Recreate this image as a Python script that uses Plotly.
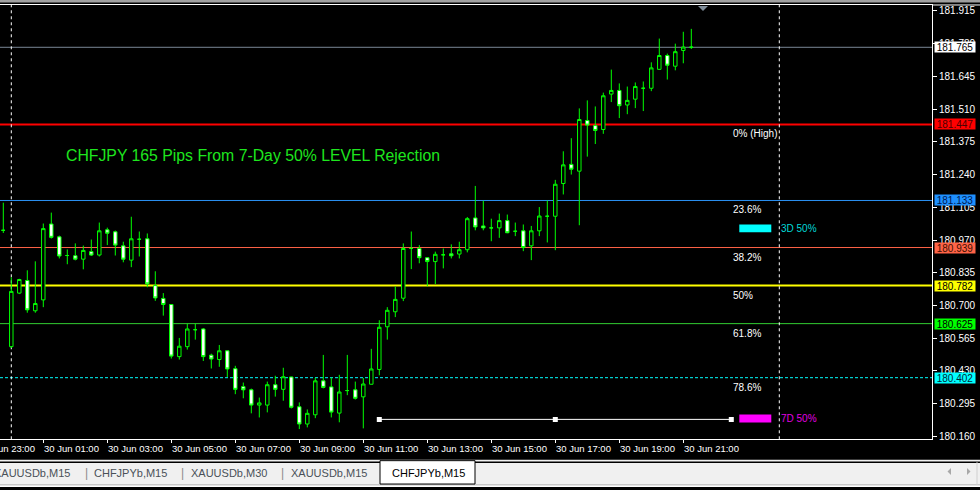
import plotly.graph_objects as go
import pandas as pd

# ---------------- data ----------------
times = pd.date_range("2025-06-29 23:45", periods=87, freq="15min")

open_ = [181.010, 180.530, 180.751, 180.803, 180.678, 180.723, 181.036, 180.983, 180.906, 180.905,
         180.891, 180.922, 180.908, 181.012, 181.004, 180.946, 180.887, 180.973, 180.975, 180.782,
         180.729, 180.704, 180.489, 180.530, 180.600, 180.603, 180.495, 180.477, 180.513, 180.439,
         180.365, 180.352, 180.289, 180.289, 180.373, 180.354, 180.405, 180.282, 180.211, 180.249,
         180.389, 180.364, 180.256, 180.349, 180.352, 180.323, 180.375, 180.436, 180.612, 180.674,
         180.730, 180.935, 180.935, 180.897, 180.881, 180.909, 180.913, 180.912, 180.930, 181.061,
         181.028, 181.020, 181.020, 181.050, 181.006, 181.008, 180.946, 181.008, 181.068, 181.068,
         181.203, 181.282, 181.254, 181.463, 181.442, 181.426, 181.572, 181.587, 181.527, 181.551,
         181.596, 181.596, 181.674, 181.731, 181.687, 181.752, 181.766]
high = [181.124, 180.816, 180.810, 180.845, 180.882, 181.038, 181.083, 180.988, 180.931, 180.956,
        180.947, 180.972, 181.042, 181.021, 181.009, 180.963, 181.066, 181.005, 180.997, 180.841,
        180.751, 180.705, 180.566, 180.625, 180.625, 180.607, 180.501, 180.537, 180.514, 180.451,
        180.382, 180.357, 180.320, 180.386, 180.410, 180.443, 180.406, 180.300, 180.271, 180.402,
        180.496, 180.402, 180.414, 180.496, 180.386, 180.401, 180.521, 180.639, 180.693, 180.778,
        180.956, 181.005, 180.949, 180.899, 180.922, 180.935, 180.952, 180.963, 181.065, 181.193,
        181.132, 181.058, 181.079, 181.075, 181.042, 181.034, 181.028, 181.106, 181.133, 181.218,
        181.336, 181.390, 181.513, 181.546, 181.521, 181.578, 181.673, 181.616, 181.603, 181.620,
        181.624, 181.703, 181.801, 181.739, 181.780, 181.829, 181.841]
low = [180.999, 180.525, 180.747, 180.670, 180.670, 180.693, 180.976, 180.894, 180.870, 180.886,
       180.849, 180.904, 180.902, 180.949, 180.906, 180.878, 180.858, 180.902, 180.775, 180.719,
       180.658, 180.481, 180.477, 180.518, 180.559, 180.471, 180.440, 180.447, 180.405, 180.334,
       180.317, 180.255, 180.238, 180.259, 180.324, 180.307, 180.275, 180.190, 180.197, 180.235,
       180.358, 180.238, 180.218, 180.330, 180.312, 180.193, 180.374, 180.412, 180.559, 180.652,
       180.718, 180.850, 180.874, 180.779, 180.788, 180.853, 180.894, 180.894, 180.919, 181.010,
       181.010, 180.965, 180.979, 180.998, 180.986, 180.924, 180.887, 180.986, 180.960, 180.928,
       181.158, 181.240, 181.031, 181.314, 181.366, 181.408, 181.539, 181.473, 181.489, 181.514,
       181.502, 181.584, 181.672, 181.632, 181.670, 181.699, 181.758]
close = [181.010, 180.758, 180.807, 180.682, 180.708, 181.017, 180.981, 180.904, 180.906, 180.891,
         180.927, 180.908, 181.008, 180.998, 180.949, 180.891, 180.975, 180.973, 180.789, 180.731,
         180.704, 180.491, 180.532, 180.603, 180.600, 180.489, 180.479, 180.513, 180.438, 180.354,
         180.352, 180.289, 180.298, 180.373, 180.354, 180.406, 180.280, 180.211, 180.255, 180.389,
         180.362, 180.260, 180.343, 180.349, 180.317, 180.376, 180.438, 180.610, 180.680, 180.725,
         180.935, 180.935, 180.897, 180.881, 180.911, 180.909, 180.905, 180.930, 181.058, 181.024,
         181.020, 181.020, 181.050, 181.000, 181.006, 180.939, 181.008, 181.069, 181.068, 181.200,
         181.280, 181.262, 181.467, 181.444, 181.422, 181.565, 181.587, 181.524, 181.546, 181.603,
         181.596, 181.680, 181.731, 181.691, 181.747, 181.766, 181.765]

time_ticks = ["2025-06-29 23:00", "2025-06-30 01:00", "2025-06-30 03:00", "2025-06-30 05:00",
              "2025-06-30 07:00", "2025-06-30 09:00", "2025-06-30 11:00", "2025-06-30 13:00",
              "2025-06-30 15:00", "2025-06-30 17:00", "2025-06-30 19:00", "2025-06-30 21:00"]
time_labels = ["29 Jun 23:00", "30 Jun 01:00", "30 Jun 03:00", "30 Jun 05:00", "30 Jun 07:00",
               "30 Jun 09:00", "30 Jun 11:00", "30 Jun 13:00", "30 Jun 15:00", "30 Jun 17:00",
               "30 Jun 19:00", "30 Jun 21:00"]
price_ticks = [181.915, 181.780, 181.645, 181.510, 181.375, 181.240, 181.105, 180.970,
               180.835, 180.700, 180.565, 180.430, 180.295, 180.160]

fib_levels = [181.447, 181.133, 180.939, 180.782, 180.625, 180.402]
fib_labels = ["0% (High)", "23.6%", "38.2%", "50%", "61.8%", "78.6%"]
fib_colors = ["#ff0000", "#2a8ff0", "#ff6347", "#ffff00", "#32cd32", "#00ffff"]
fib_widths = [2, 1, 1, 2, 1, 1]
fib_dash = ["solid", "solid", "solid", "solid", "solid", "3px,2px"]
fib_label_time = "2025-06-30 22:30"

bid_price = 181.765

box_prices = [181.765, 181.447, 181.133, 180.939, 180.782, 180.625, 180.402]
box_bg = ["#ffffff", "#ff0000", "#1e90ff", "#ff6347", "#ffff00", "#00ff00", "#00ffff"]
box_fg = ["#000000", "#4a0000", "#001850", "#401000", "#000000", "#000000", "#002838"]

day_separators = ["2025-06-30 00:00", "2025-07-01 00:00"]

trend_times = ["2025-06-30 11:30", "2025-06-30 17:00", "2025-06-30 22:30"]
trend_prices = [180.230, 180.230, 180.230]

marker_names = ["3D 50%", "7D 50%"]
marker_levels = [181.018, 180.234]
marker_colors = ["#00ffff", "#ff00ff"]
marker_text_colors = ["#00d8d8", "#e000e0"]
marker_start = "2025-06-30 22:45"
marker_end = "2025-06-30 23:45"
marker_text_time = "2025-07-01 00:00"

title_text = "CHFJPY 165 Pips From 7-Day 50% LEVEL Rejection"

tabs = ["XAUUSDb,M15", "CHFJPYb,M15", "XAUUSDb,M30", "XAUUSDb,M15"]
active_tab = "CHFJPYb,M15"

x_range = ["2025-06-29 23:38:49", "2025-07-01 04:46:19"]
y_range = [180.1479, 181.9396]

# ---------------- helpers (pixel -> paper) ----------------
W, H = 980, 490
def PX(x):
    return x / W
def PY(y):
    return 1 - y / H

FONT = "Liberation Sans, Arial, sans-serif"
PX_PER_MIN = 8 / 15.0  # bar spacing of the chart (8 px per 15-minute bar)

fig = go.Figure()

fig.add_trace(go.Candlestick(
    x=times, open=open_, high=high, low=low, close=close,
    increasing=dict(line=dict(color="#00ff00", width=1), fillcolor="#000000"),
    decreasing=dict(line=dict(color="#00ff00", width=1), fillcolor="#ffffff"),
    whiskerwidth=0, hoverinfo="skip", showlegend=False,
))

# trend line with selection squares
fig.add_trace(go.Scatter(
    x=trend_times, y=trend_prices, mode="lines+markers",
    line=dict(color="#ffffff", width=1),
    marker=dict(symbol="square", size=5, color="#ffffff"),
    hoverinfo="skip", showlegend=False,
))

shapes = []
# bid line
shapes.append(dict(type="line", xref="paper", yref="y", x0=0, x1=PX(932), y0=bid_price, y1=bid_price,
                   line=dict(color="#7a8796", width=1), layer="below"))
# fib lines
for lv, col, wd, ds in zip(fib_levels, fib_colors, fib_widths, fib_dash):
    shapes.append(dict(type="line", xref="paper", yref="y", x0=0, x1=PX(932), y0=lv, y1=lv,
                       line=dict(color=col, width=wd, dash=ds), layer="below"))
# day separators
for d in day_separators:
    shapes.append(dict(type="line", xref="x", yref="paper", x0=d, x1=d, y0=PY(442), y1=PY(5),
                       line=dict(color="#ffffff", width=1, dash="3px,3px"), layer="below"))
# marker rectangles
half = 4 / 243.9
for lv, col in zip(marker_levels, marker_colors):
    shapes.append(dict(type="rect", xref="x", yref="y", x0=marker_start, x1=marker_end,
                       y0=lv - half, y1=lv + half, fillcolor=col, line=dict(width=0)))
# top strip
shapes.append(dict(type="rect", xref="paper", yref="paper", x0=0, x1=1, y0=PY(2.5), y1=1,
                   fillcolor="#a0a0a0", line=dict(width=0)))
shapes.append(dict(type="line", xref="paper", yref="paper", x0=PX(932), x1=1, y0=PY(5), y1=PY(5),
                   line=dict(color="#ffffff", width=1)))
# chart shift triangle
shapes.append(dict(type="path", xref="paper", yref="paper",
                   path=f"M {PX(698)} {PY(6)} L {PX(708)} {PY(6)} L {PX(703)} {PY(11)} Z",
                   fillcolor="#7f8c99", line=dict(width=0)))
# tab bar
shapes.append(dict(type="rect", xref="paper", yref="paper", x0=0, x1=1, y0=0, y1=PY(462.5),
                   fillcolor="#f0f0f0", line=dict(width=0)))
shapes.append(dict(type="line", xref="paper", yref="paper", x0=0, x1=1, y0=PY(465), y1=PY(465),
                   line=dict(color="#000000", width=1.5)))
shapes.append(dict(type="line", xref="paper", yref="paper", x0=0, x1=1, y0=PY(488), y1=PY(488),
                   line=dict(color="#a0a0a0", width=1)))
shapes.append(dict(type="rect", xref="paper", yref="paper", x0=0, x1=1, y0=0, y1=PY(488.5),
                   fillcolor="#ffffff", line=dict(width=0)))
shapes.append(dict(type="rect", xref="paper", yref="paper", x0=PX(380), x1=PX(475), y0=PY(487), y1=PY(463.5),
                   fillcolor="#ffffff", line=dict(color="#000000", width=1)))
shapes.append(dict(type="line", xref="paper", yref="paper", x0=PX(977), x1=PX(977), y0=PY(488), y1=PY(465),
                   line=dict(color="#d0d0d0", width=1)))
# scroll arrows
shapes.append(dict(type="path", xref="paper", yref="paper",
                   path=f"M {PX(951)} {PY(471)} L {PX(951)} {PY(478)} L {PX(947.5)} {PY(474.5)} Z",
                   fillcolor="#a8a8a8", line=dict(width=0)))
shapes.append(dict(type="path", xref="paper", yref="paper",
                   path=f"M {PX(967)} {PY(471)} L {PX(967)} {PY(478)} L {PX(970.5)} {PY(474.5)} Z",
                   fillcolor="#a8a8a8", line=dict(width=0)))

ann = []
# time labels (left-aligned at their tick, MT4 style)
x_start = pd.Timestamp(x_range[0])
for t, lab in zip(time_ticks, time_labels):
    tt = pd.Timestamp(t)
    if tt < x_start:
        # tick lies left of the visible area: anchor at the left edge and shift back
        off = (x_start - tt).total_seconds() / 60.0 * PX_PER_MIN
        ann.append(dict(x=x_range[0], y=PY(451), xref="x", yref="paper", text=lab, showarrow=False,
                        xanchor="left", yanchor="middle", xshift=-1 - off,
                        font=dict(family=FONT, size=9.5, color="#ffffff")))
    else:
        ann.append(dict(x=t, y=PY(451), xref="x", yref="paper", text=lab, showarrow=False,
                        xanchor="left", yanchor="middle", xshift=-1,
                        font=dict(family=FONT, size=9.5, color="#ffffff")))
# price boxes
for p, bg, fg in zip(box_prices, box_bg, box_fg):
    ann.append(dict(x=PX(934), y=p, xref="paper", yref="y", text=f"{p:.3f}", showarrow=False,
                    xanchor="left", yanchor="middle", bgcolor=bg, width=40, height=10, borderpad=0,
                    font=dict(family=FONT, size=10, color=fg)))
# fib labels
for lv, lab in zip(fib_levels, fib_labels):
    ann.append(dict(x=fib_label_time, y=lv, xref="x", yref="y", text=lab, showarrow=False,
                    xanchor="left", yanchor="top", yshift=-2,
                    font=dict(family=FONT, size=10, color="#ffffff")))
# marker labels
for nm, lv, col in zip(marker_names, marker_levels, marker_text_colors):
    ann.append(dict(x=marker_text_time, y=lv, xref="x", yref="y", text=nm, showarrow=False,
                    xanchor="left", yanchor="middle",
                    font=dict(family=FONT, size=10, color=col)))
# title text object
ann.append(dict(x=PX(64), y=PY(156), xref="paper", yref="paper", text=title_text, showarrow=False,
                xanchor="left", yanchor="middle",
                font=dict(family=FONT, size=15.8, color="#1ee61e")))
# tabs
tab_right_edges = [71.7, 168.7, 268.7, 369]
for lab, xr in zip(tabs, tab_right_edges):
    ann.append(dict(x=PX(xr), y=PY(475.5), xref="paper", yref="paper", text=lab, showarrow=False,
                    xanchor="right", yanchor="middle",
                    font=dict(family=FONT, size=11, color="#4a5058")))
for sx in [86, 182, 282]:
    ann.append(dict(x=PX(sx), y=PY(475.5), xref="paper", yref="paper", text="|", showarrow=False,
                    xanchor="center", yanchor="middle",
                    font=dict(family=FONT, size=12, color="#8a8a8a")))
ann.append(dict(x=PX(428.5), y=PY(475.5), xref="paper", yref="paper", text=active_tab, showarrow=False,
                xanchor="center", yanchor="middle",
                font=dict(family=FONT, size=11, color="#000000")))

fig.update_layout(
    width=W, height=H, margin=dict(l=0, r=0, t=0, b=0),
    paper_bgcolor="#000000", plot_bgcolor="#000000",
    showlegend=False, boxgap=0.38,
    shapes=shapes, annotations=ann,
    xaxis=dict(type="date", domain=[0, PX(932)], range=x_range, showgrid=False, zeroline=False,
               showline=True, linecolor="#ffffff", linewidth=1, mirror=True,
               ticks="outside", tickvals=time_ticks, ticklen=3, tickcolor="#ffffff", tickwidth=1,
               showticklabels=False, rangeslider=dict(visible=False), fixedrange=True),
    yaxis=dict(domain=[PY(442), PY(5)], range=y_range, side="right", showgrid=False, zeroline=False,
               showline=True, linecolor="#ffffff", linewidth=1,
               ticks="outside", ticklen=4, tickcolor="#ffffff", tickwidth=1,
               tickvals=price_ticks, ticktext=[f"{v:.3f}" for v in price_ticks],
               tickfont=dict(family=FONT, size=10, color="#ffffff"), fixedrange=True),
)

fig.write_html("out.html", config={"displayModeBar": False},
               post_script="document.body.style.margin='0px';document.body.style.overflow='hidden';document.body.style.background='#000';")
